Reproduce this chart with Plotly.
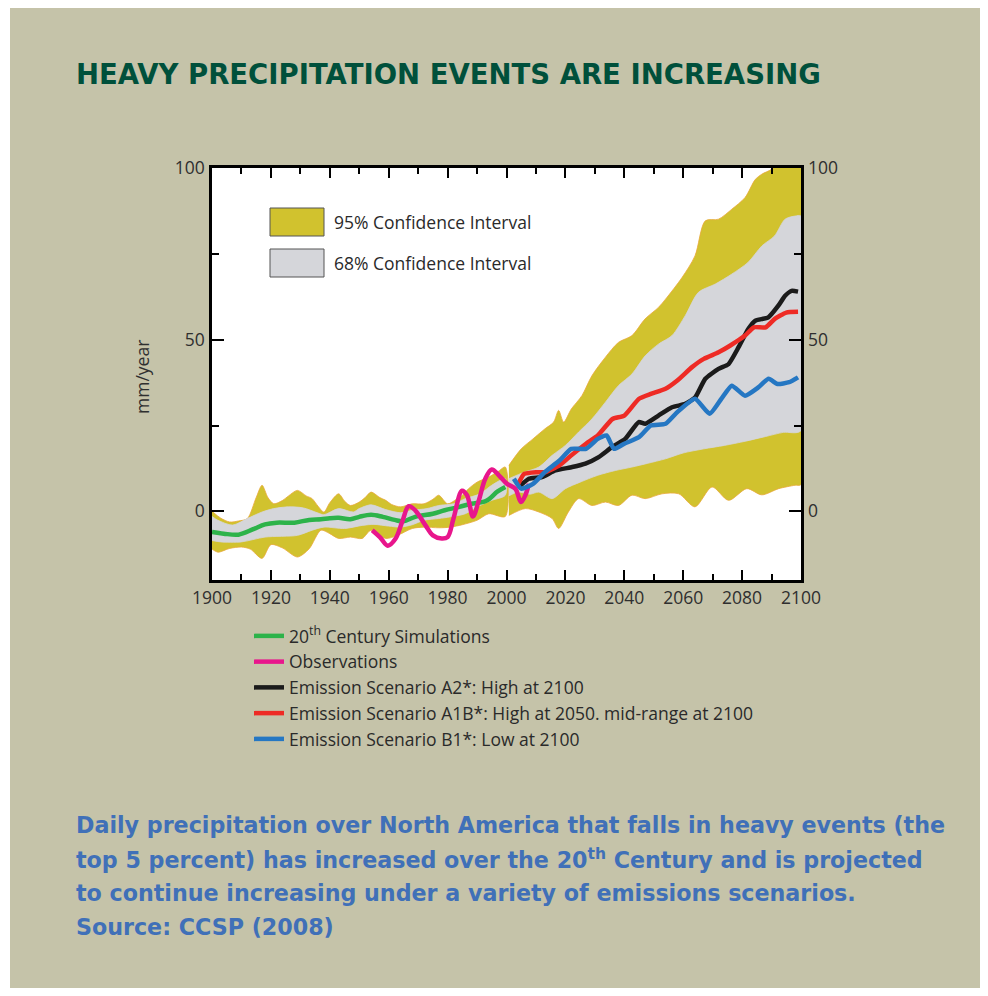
import plotly.graph_objects as go

# ---------------- data ----------------
hist_95_hi_years = [1900, 1903, 1906, 1909, 1912, 1915, 1917, 1919, 1921, 1924, 1926, 1929, 1932, 1934, 1936, 1938,
                    1940, 1943, 1945, 1947, 1950, 1952, 1954, 1957, 1959, 1961, 1964, 1968, 1972, 1975, 1977, 1980,
                    1983, 1985, 1987, 1990, 1994, 1997, 1999.6]
hist_95_hi = [0, -2, -3.1, -2.8, -2.1, 4, 7.6, 4, 2.2, 3.2, 4.5, 6.1, 4.5, 3.7, 1.5, -0.2,
              2.5, 5.1, 3, 1.7, 2.7, 4, 5.6, 4, 3.2, 2, 1.3, 2.2, 2.2, 3.5, 4.7, 2.2,
              3.5, 4.7, 6.5, 8.5, 10, 11.5, 12.9]
hist_95_lo_years = [1900, 1902, 1906, 1910, 1913, 1917, 1920, 1924, 1929, 1933, 1937, 1940, 1943, 1947, 1951,
                    1954, 1959, 1963, 1968, 1972, 1977, 1981, 1985, 1990, 1994, 1999.6]
hist_95_lo = [-11, -11.9, -10.8, -10.4, -11, -13.7, -9.7, -10.7, -13.3, -10.9, -5.5, -6.5, -7.9, -7.5, -7.9,
              -5.5, -7.9, -7, -5, -4.6, -4.8, -4.6, -3.9, -2.6, -0.7, -1.5]
hist_68_hi_years = [1900, 1902, 1907, 1912, 1917, 1921, 1926, 1931, 1936, 1938, 1943, 1948, 1950, 1954, 1959,
                    1964, 1968, 1973, 1977, 1982, 1986, 1991, 1995, 1999.6]
hist_68_hi = [-1.5, -2.6, -4, -2.1, -0.2, 0.8, 1.3, 1.0, -0.5, -1, 0.8, -0.2, 0.8, 1.9, 0.5,
              -0.4, 0.3, 0.8, 1.7, 2.2, 3.7, 5.1, 7.6, 9.5]
hist_68_lo_years = [1900, 1903, 1910, 1918, 1929, 1934, 1938, 1945, 1951, 1955, 1960, 1964, 1968, 1972, 1977,
                    1981, 1986, 1990, 1995, 1999.6]
hist_68_lo = [-8.5, -8.9, -8.9, -7.5, -7, -5.5, -4.6, -5, -4.1, -3.8, -4.3, -4.6, -3.9, -2.6, -2.1,
              -1.6, -0.7, 1.3, 3.2, 4.7]

proj_95_hi_years = [2000.8, 2005, 2009, 2013, 2016, 2017.7, 2019.4, 2022, 2025.6, 2029, 2033.6, 2038, 2042.6,
                    2047, 2051.6, 2054, 2059.6, 2064, 2067.5, 2072, 2076.5, 2081, 2084.5, 2086.7, 2090, 2095, 2100]
proj_95_hi = [13.4, 18.2, 21.1, 24, 26, 29.4, 26, 29.8, 33.7, 39.5, 44.9, 49.2, 51.2,
              56, 59.4, 61.8, 68.1, 74.4, 84.6, 85.1, 88, 91.4, 96.7, 98.2, 99.6, 103, 105]
proj_95_lo_years = [2000.8, 2006.4, 2011, 2015.5, 2017.7, 2021, 2024.5, 2029, 2033.6, 2038, 2042.6, 2047.1,
                    2052.8, 2058.5, 2064, 2069.8, 2075.4, 2081.6, 2086.7, 2092.4, 2098, 2100]
proj_95_lo = [-1.2, 0.8, -0.2, -2.1, -5, -0.2, 3.7, 1.7, 2.7, 1.7, 4.7, 3.7,
              5.1, 5.1, 1.3, 7.1, 3.2, 6.6, 4.8, 6.6, 7.6, 7.8]
proj_68_hi_years = [2000.8, 2006, 2011, 2015.5, 2020, 2024.5, 2029, 2033.6, 2038, 2042.6, 2047.1, 2051.6,
                    2056.2, 2060.7, 2065.2, 2070.9, 2076.5, 2082, 2086.7, 2091, 2094.6, 2098, 2100]
proj_68_hi = [9.5, 11.4, 12.9, 16.3, 19.2, 23.1, 26.9, 31.8, 36.6, 40, 45.3, 48.7,
              51.2, 57, 63.8, 66.2, 69.1, 72.5, 77.3, 80.2, 85.1, 86, 86]
proj_68_lo_years = [2000.8, 2004, 2008, 2011, 2015.5, 2020, 2025, 2031, 2037, 2042.6, 2048, 2054, 2060,
                    2067, 2074, 2081, 2088, 2094, 2100]
proj_68_lo = [4.5, 5.6, 5.0, 5.6, 3.7, 6.6, 8.5, 10.5, 11.9, 12.9, 14.0, 15.3, 17.0,
              18.2, 19.2, 20.4, 21.8, 23.0, 23.5]

sim_years = [1900, 1904, 1909, 1914, 1918, 1922, 1928, 1933, 1937, 1940, 1943, 1947, 1950, 1954, 1958, 1962,
             1965, 1969, 1975, 1979, 1984, 1988, 1993, 1997, 1999.6]
sim_values = [-6.0, -6.5, -6.8, -5.2, -3.8, -3.3, -3.3, -2.5, -2.3, -2.0, -1.9, -2.3, -1.6, -1.0, -1.6, -2.5,
              -2.9, -1.6, -0.7, 0.3, 1.3, 2.2, 3.0, 5.8, 7.1]

obs_years = [1954.4, 1957, 1959.7, 1962.3, 1964.6, 1966.8, 1969, 1972.5, 1975, 1978, 1980, 1982, 1984.9,
             1986.6, 1988.6, 1990.6, 1992.8, 1995, 1997.4, 2000.2, 2003, 2004.9, 2006.4, 2007.6]
obs_values = [-5.5, -7.5, -10, -8, -3, 1.5, 0.3, -4.1, -7, -7.9, -7.5, -2.1, 6.0,
              4.7, -1.5, 3.2, 9.5, 12.2, 10.5, 8, 6.6, 2.7, 4.7, 8]

a2_years = [2004.2, 2007.6, 2012, 2016.6, 2022.3, 2026.8, 2031.3, 2035.8, 2040.3, 2044.9, 2047.1, 2051.6,
            2056.2, 2060.7, 2064.1, 2067.5, 2072, 2075.4, 2078.8, 2082.1, 2084.4, 2088.9, 2092.3, 2094.6,
            2096.8, 2099]
a2_values = [7.1, 9.5, 10, 11.9, 12.9, 13.9, 15.8, 18.7, 21.1, 26, 25.5, 27.9,
             30.3, 31.3, 33.2, 38.6, 41.5, 42.9, 47.8, 53.1, 55.5, 56.5, 59.9, 62.8,
             64.2, 64]

a1b_years = [2004, 2006, 2010, 2013, 2018, 2022, 2027, 2031, 2036, 2040, 2045, 2049, 2054, 2058, 2063, 2067,
             2072, 2076, 2081, 2084, 2088, 2091, 2095, 2099]
a1b_values = [8, 10.9, 11.4, 11.4, 13.4, 16.3, 19.7, 22.1, 26.9, 27.9, 32.8, 34.2, 35.7, 38.1, 42, 44.4,
              46.3, 48.3, 51.2, 53.6, 53.6, 56, 57.9, 58.1]

b1_years = [2002.5, 2005, 2009, 2013, 2018, 2022, 2027, 2031, 2034, 2036.5, 2040, 2045, 2049, 2054, 2058,
            2064, 2069, 2073, 2076.5, 2081, 2085.5, 2089, 2092, 2096, 2099]
b1_values = [9.5, 6.6, 8, 11.4, 14.8, 18.2, 18.2, 21.1, 22.1, 18.2, 19.7, 21.6, 25, 25.5, 28.9,
             32.8, 28.4, 32.8, 36.6, 33.7, 36.1, 38.6, 37.1, 37.6, 39]

series_names = ["20<sup>th</sup> Century Simulations", "Observations", "Emission Scenario A2*: High at 2100",
                "Emission Scenario A1B*: High at 2050. mid-range at 2100", "Emission Scenario B1*: Low at 2100"]
band_names = ["95% Confidence Interval", "68% Confidence Interval"]
x_ticks = [1900, 1920, 1940, 1960, 1980, 2000, 2020, 2040, 2060, 2080, 2100]
y_ticks = [0, 50, 100]

# ---------------- styling ----------------
BEIGE = "#c5c3a9"
YELLOW = "#d1c22e"
EDGE = "#e9a83a"
GREY = "#d5d6da"
SMALL = dict(family="Open Sans, Lato, sans-serif", size=17.5, color="#2f2f2f")

# The page body has an 8px margin, so the figure is smaller and offset by 8px.
W, H = 980, 980
PL, PT = 204, 160          # plot-area left / top inside the figure
PW, PH = 589, 412          # plot-area size


def px(xref):   # reference-page x -> paper fraction
    return (xref - 8 - PL) / PW


def py(yref):   # reference-page y -> paper fraction
    return (PT + PH - (yref - 8)) / PH


fig = go.Figure()


def band(xs_hi, ys_hi, xs_lo, ys_lo, color, edge):
    fig.add_trace(go.Scatter(
        x=list(xs_hi) + list(xs_lo)[::-1],
        y=list(ys_hi) + list(ys_lo)[::-1],
        fill="toself", fillcolor=color, mode="lines",
        line=dict(color=edge, width=0.8, shape="spline", smoothing=0.8),
        hoverinfo="skip", showlegend=False))


band(hist_95_hi_years, hist_95_hi, hist_95_lo_years, hist_95_lo, YELLOW, EDGE)
band(hist_68_hi_years, hist_68_hi, hist_68_lo_years, hist_68_lo, GREY, GREY)
band(proj_95_hi_years, proj_95_hi, proj_95_lo_years, proj_95_lo, YELLOW, EDGE)
band(proj_68_hi_years, proj_68_hi, proj_68_lo_years, proj_68_lo, GREY, GREY)

line_specs = [
    (sim_years, sim_values, "#2db34a", 1.0),
    (obs_years, obs_values, "#e8168c", 1.0),
    (a2_years, a2_values, "#1b1b1b", 0.5),
    (a1b_years, a1b_values, "#ee2b25", 0.5),
    (b1_years, b1_values, "#2577c3", 0.5),
]
for (xs, ys, col, sm), name in zip(line_specs, series_names):
    fig.add_trace(go.Scatter(x=xs, y=ys, mode="lines", name=name,
                             line=dict(color=col, width=4.5, shape="spline", smoothing=sm)))

# invisible trace to carry the right-hand axis labels
fig.add_trace(go.Scatter(x=sim_years, y=sim_values, yaxis="y2", mode="lines",
                         line=dict(width=0), opacity=0, hoverinfo="skip", showlegend=False))

# beige panel and white plot background
fig.add_shape(type="rect", xref="paper", yref="paper", x0=px(10), x1=px(986),
              y0=py(1010), y1=py(7), fillcolor=BEIGE, line_width=0, layer="below")
fig.add_shape(type="rect", xref="x domain", yref="y domain", x0=0, x1=1, y0=0, y1=1,
              fillcolor="white", line_width=0, layer="below")

# confidence-interval key (inside plot)
for i, (name, col) in enumerate(zip(band_names, [YELLOW, GREY])):
    top = 208 + i * 41
    fig.add_shape(type="rect", xref="paper", yref="paper",
                  x0=px(270), x1=px(324), y0=py(top + 28), y1=py(top),
                  fillcolor=col, line=dict(color="#555555", width=1))
    fig.add_annotation(xref="paper", yref="paper", x=px(332), y=py(top + 14),
                       text=name, showarrow=False, xanchor="left", yanchor="middle",
                       font=dict(family="Open Sans, sans-serif", size=17.5, color="#2a2a2a"))

# title
fig.add_annotation(xref="paper", yref="paper", x=px(74), y=py(74),
                   text="<b>HEAVY PRECIPITATION EVENTS ARE INCREASING</b>", showarrow=False,
                   xanchor="left", yanchor="middle",
                   font=dict(family="DejaVu Sans", size=27.5, color="#00503b"))

# y-axis title
fig.add_annotation(xref="paper", yref="paper", x=px(142), y=py(377),
                   text="mm/year", textangle=-90, showarrow=False, xanchor="center", yanchor="middle",
                   font=SMALL)

# caption
caption_lines = [
    "Daily precipitation over North America that falls in heavy events (the",
    "top 5 percent) has increased over the 20<sup>th</sup> Century and is projected",
    "to continue increasing under a variety of emissions scenarios.",
    "Source: CCSP (2008)",
]
for i, line in enumerate(caption_lines):
    fig.add_annotation(xref="paper", yref="paper", x=px(74), y=py(825 + 34 * i),
                       text="<b>" + line + "</b>", showarrow=False, xanchor="left", yanchor="middle",
                       font=dict(family="DejaVu Sans", size=22.2, color="#4070b8"))

axis_common = dict(showline=True, linecolor="black", linewidth=2.5, mirror="ticks",
                   ticks="inside", tickcolor="black", tickwidth=2, showgrid=False, zeroline=False,
                   tickfont=SMALL)

fig.update_layout(
    width=W, height=H,
    margin=dict(l=PL, r=W - PL - PW, t=PT, b=H - PT - PH),
    paper_bgcolor="white", plot_bgcolor="white",
    xaxis=dict(range=[1900, 2100], tickvals=x_ticks, ticklen=10,
               minor=dict(dtick=10, tick0=1900, ticklen=6, tickcolor="black", tickwidth=1.5, ticks="inside"),
               **axis_common),
    yaxis=dict(range=[-20, 100], tickvals=y_ticks, ticklen=12, ticklabelstandoff=1,
               minor=dict(dtick=25, tick0=0, ticklen=7, tickcolor="black", tickwidth=1.5, ticks="inside"),
               **axis_common),
    yaxis2=dict(range=[-20, 100], tickvals=y_ticks, overlaying="y", side="right", showline=False,
                ticks="", showgrid=False, zeroline=False, tickfont=SMALL, ticklabelstandoff=6),
    legend=dict(x=px(249), xanchor="left", y=py(618), yanchor="top",
                bgcolor="rgba(0,0,0,0)", font=dict(family="Open Sans, sans-serif", size=17.5, color="#2a2a2a"),
                itemwidth=30),
    showlegend=True,
)

fig.write_html("out.html")
